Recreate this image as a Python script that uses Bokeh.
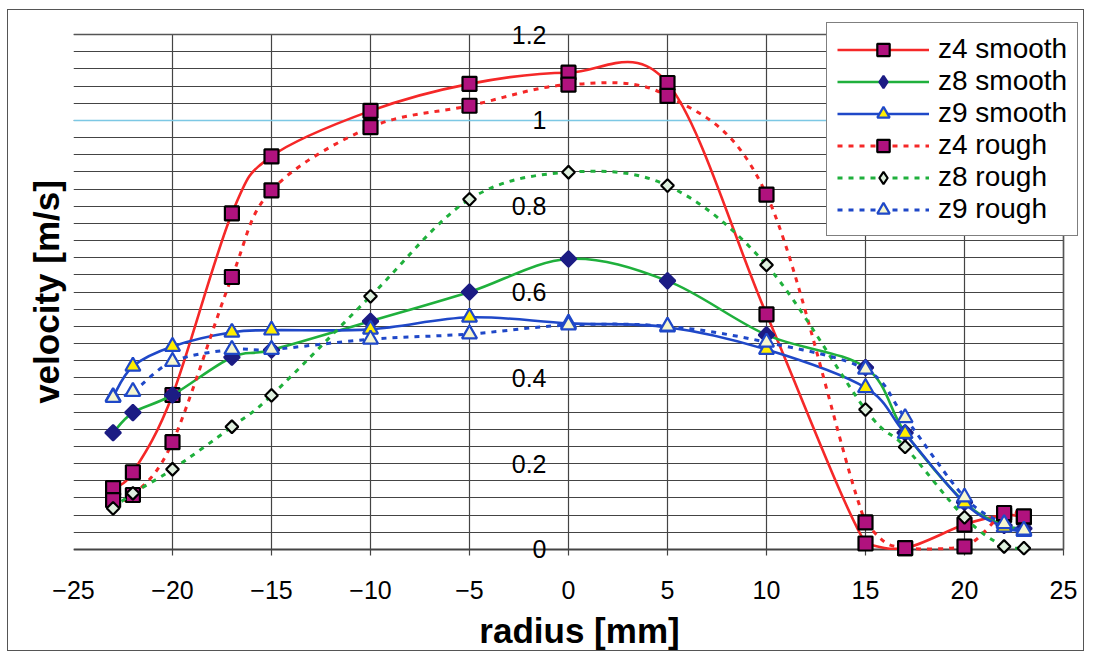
import numpy as np
from bokeh.plotting import figure
from bokeh.models import (Range1d, FixedTicker, Legend, LegendItem, Grid,
                          ColumnDataSource, Label)
from bokeh.embed import file_html
from bokeh.resources import INLINE

# ---------------- data ----------------
radius = [-23, -22, -20, -17, -15, -10, -5, 0, 5, 10, 15, 17, 20, 22, 23]

z4_smooth = [0.143, 0.180, 0.360, 0.783, 0.916, 1.022, 1.085, 1.111, 1.087, 0.548, 0.014, 0.003, 0.058, 0.080, 0.075]
z8_smooth = [0.272, 0.319, 0.360, 0.448, 0.465, 0.532, 0.600, 0.677, 0.626, 0.500, 0.424, 0.272, 0.110, 0.056, 0.049]
z9_smooth = [0.356, 0.427, 0.473, 0.506, 0.511, 0.513, 0.541, 0.527, 0.518, 0.466, 0.377, 0.270, 0.108, 0.052, 0.042]
z4_rough = [0.115, 0.127, 0.250, 0.635, 0.837, 0.984, 1.034, 1.083, 1.057, 0.827, 0.063, 0.003, 0.007, 0.085, 0.077]
z8_rough = [0.096, 0.131, 0.187, 0.286, 0.359, 0.590, 0.816, 0.879, 0.848, 0.663, 0.326, 0.239, 0.075, 0.007, 0.003]
z9_rough = [0.354, 0.368, 0.438, 0.466, 0.466, 0.490, 0.502, 0.523, 0.520, 0.483, 0.420, 0.307, 0.122, 0.060, 0.045]

series_names = ["z4 smooth", "z8 smooth", "z9 smooth", "z4 rough", "z8 rough", "z9 rough"]

x_ticks = [-25, -20, -15, -10, -5, 0, 5, 10, 15, 20, 25]
y_tick_values = [0, 0.2, 0.4, 0.6, 0.8, 1.0, 1.2]
y_tick_labels = ["0", "0.2", "0.4", "0.6", "0.8", "1", "1.2"]
y_grid_lines = list(np.round(np.arange(0, 1.2001, 0.04), 3))

FONT = "Liberation Sans"
X_MIN, X_MAX = -25, 25
Y_MIN, Y_MAX = 0.0, 1.2
PAD_Y = 0.0373   # room so the "0" and "1.2" labels are not clipped
PAD_X = 1.111    # room on the right for the legend box
TICK = 0.014     # small tick stubs below the x axis


def bezier_source(xs, ys):
    """Excel-like smoothed line: cubic Bezier segments through the data points
    (control points kept above the axis floor)."""
    n = len(xs)
    d = dict(x0=[], y0=[], x1=[], y1=[], cx0=[], cy0=[], cx1=[], cy1=[])
    for i in range(n - 1):
        im, ip = max(i - 1, 0), min(i + 2, n - 1)
        d["x0"].append(xs[i]); d["y0"].append(ys[i])
        d["x1"].append(xs[i + 1]); d["y1"].append(ys[i + 1])
        d["cx0"].append(xs[i] + (xs[i + 1] - xs[im]) / 6.0)
        d["cy0"].append(max(Y_MIN, ys[i] + (ys[i + 1] - ys[im]) / 6.0))
        d["cx1"].append(xs[i + 1] - (xs[ip] - xs[i]) / 6.0)
        d["cy1"].append(max(Y_MIN, ys[i + 1] - (ys[ip] - ys[i]) / 6.0))
    return ColumnDataSource(d)


p = figure(width=1077, height=642,
           x_range=Range1d(X_MIN, X_MAX + PAD_X), y_range=Range1d(Y_MIN - PAD_Y, Y_MAX + PAD_Y),
           output_backend="svg", toolbar_location=None,
           min_border_left=65, min_border_right=0,
           min_border_top=8, min_border_bottom=87,
           background_fill_color="white", border_fill_color="white")
p.styles = {"border": "1px solid #555555", "margin": "9px 0px 0px 7px"}
p.outline_line_color = None

# ---- grid lines, limited to the chart box ----
p.xgrid.visible = False
p.ygrid.visible = False
HAS_CROSS = "cross_bounds" in Grid.properties()


def add_grid(dim, ticks, cross, color, width):
    if HAS_CROSS:
        p.add_layout(Grid(dimension=dim, ticker=FixedTicker(ticks=ticks), cross_bounds=cross,
                          grid_line_color=color, grid_line_width=width))
    else:
        if dim == 1:
            src = dict(x0=[cross[0]] * len(ticks), x1=[cross[1]] * len(ticks), y0=ticks, y1=ticks)
        else:
            src = dict(x0=ticks, x1=ticks, y0=[cross[0]] * len(ticks), y1=[cross[1]] * len(ticks))
        p.segment(x0="x0", y0="y0", x1="x1", y1="y1", source=ColumnDataSource(src),
                  line_color=color, line_width=width, level="underlay")


add_grid(0, x_ticks, (Y_MIN - TICK, Y_MAX), "#444444", 1.2)
add_grid(1, y_grid_lines, (X_MIN, X_MAX), "#444444", 1.2)
add_grid(1, [1.0], (X_MIN, X_MAX), "#7cc8e4", 1.3)
add_grid(1, [Y_MIN], (X_MIN, X_MAX), "#444444", 2)
add_grid(1, [Y_MAX], (X_MIN, X_MAX), "#555555", 1.5)
add_grid(0, [X_MIN, X_MAX], (Y_MIN, Y_MAX), "#555555", 1.5)

# x axis (labels only; axis line is the y = 0 line)
xa = p.xaxis[0]
xa.ticker = FixedTicker(ticks=x_ticks)
xa.axis_line_color = None
xa.major_tick_out = 0
xa.major_tick_in = 0
xa.minor_tick_out = 0
xa.minor_tick_in = 0
xa.major_label_text_font = FONT
xa.major_label_text_font_size = "25px"
xa.major_label_text_color = "black"
xa.major_label_standoff = 15
xa.axis_label = "radius [mm]"
xa.axis_label_text_font = FONT
xa.axis_label_text_font_style = "bold"
xa.axis_label_text_font_size = "35px"
xa.axis_label_text_color = "black"
xa.axis_label_standoff = 9

# y axis (title only; tick labels are drawn at x = 0)
ya = p.yaxis[0]
ya.ticker = FixedTicker(ticks=[])
ya.axis_line_color = None
ya.major_tick_out = 0
ya.major_tick_in = 0
ya.minor_tick_out = 0
ya.minor_tick_in = 0
ya.major_label_text_font_size = "0px"
ya.major_label_standoff = 0
ya.axis_label = "velocity [m/s]"
ya.axis_label_text_font = FONT
ya.axis_label_text_font_style = "bold"
ya.axis_label_text_font_size = "35px"
ya.axis_label_text_color = "black"
ya.axis_label_standoff = 8

for yv, yt in zip(y_tick_values, y_tick_labels):
    p.add_layout(Label(x=0, y=yv, text=yt, x_offset=-22,
                       text_align="right", text_baseline="middle",
                       text_font=FONT, text_font_size="25px", text_color="black"))

RED, GREEN, BLUE = "#f52828", "#1fb03c", "#1f48c8"
styles = [
    dict(data=z4_smooth, color=RED, dash="solid", marker="square", size=14, angle=0,
         lmarker="square", lsize=14, fill="#b0127e", line="black"),
    dict(data=z8_smooth, color=GREEN, dash="solid", marker="square", size=11, angle=np.pi / 4,
         lmarker="diamond", lsize=18, fill="#1c1c84", line="#1c1c84"),
    dict(data=z9_smooth, color=BLUE, dash="solid", marker="triangle", size=15, angle=0,
         lmarker="triangle", lsize=15, fill="#ffee00", line=BLUE),
    dict(data=z4_rough, color=RED, dash="5 6", marker="square", size=14, angle=0,
         lmarker="square", lsize=14, fill="#b0127e", line="black"),
    dict(data=z8_rough, color=GREEN, dash="5 6", marker="square", size=9, angle=np.pi / 4,
         lmarker="diamond", lsize=15, fill="#dff0df", line="black"),
    dict(data=z9_rough, color=BLUE, dash="5 6", marker="triangle", size=15, angle=0,
         lmarker="triangle", lsize=15, fill="#f6f6cf", line=BLUE),
]

items = []
for name, st in zip(series_names, styles):
    src = bezier_source(radius, st["data"])
    lw = 2.6 if st["dash"] == "solid" else 3
    lr = p.bezier(x0="x0", y0="y0", x1="x1", y1="y1", cx0="cx0", cy0="cy0",
                  cx1="cx1", cy1="cy1", source=src, line_color=st["color"],
                  line_width=lw, line_dash=st["dash"])
    p.scatter(radius, st["data"], marker=st["marker"], size=st["size"], angle=st["angle"],
              fill_color=st["fill"], line_color=st["line"], line_width=2.2)
    # legend-only marker proxy (no data points drawn)
    proxy = p.scatter([np.nan], [np.nan], marker=st["lmarker"], size=st["lsize"],
                      fill_color=st["fill"], line_color=st["line"], line_width=2.2)
    items.append(LegendItem(label=name, renderers=[lr, proxy]))

legend = Legend(items=items, location=(753, 329),
                border_line_color="black", border_line_width=1.5,
                background_fill_color="white", background_fill_alpha=1.0,
                padding=10, spacing=0, margin=0,
                glyph_width=92, glyph_height=31, label_height=31,
                label_standoff=9,
                label_text_font=FONT, label_text_font_size="28px",
                label_text_color="black", label_text_baseline="middle")
p.add_layout(legend, "center")

open("out.html", "w").write(file_html(p, INLINE))
